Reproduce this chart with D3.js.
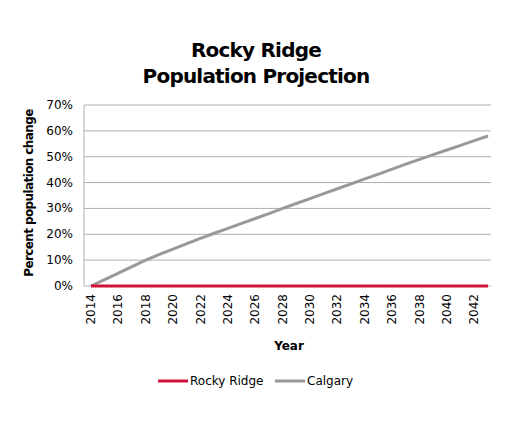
<!DOCTYPE html>
<html><head><meta charset="utf-8">
<script src="https://cdn.jsdelivr.net/npm/d3@7"></script>
<style>body{margin:0;background:#fff}svg{font-family:"DejaVu Sans",sans-serif}</style>
</head><body><div id="chart"></div>
<script>
let years = d3.range(2014, 2044)
let calgary = [0, 2.5, 5, 7.5, 10, 12.2, 14.3, 16.4, 18.4, 20.4, 22.3, 24.2, 26.1, 28.0, 30,
  31.9, 33.8, 35.7, 37.6, 39.5, 41.4, 43.3, 45.2, 47.1, 49, 50.8, 52.6, 54.4, 56.2, 58]
let rockyRidge = years.map(function(){ return 0 })
let yTicks = [0, 10, 20, 30, 40, 50, 60, 70]
let xTicks = d3.range(2014, 2043, 2)

let svg = d3.select('#chart').append('svg').attr('width', 509).attr('height', 425)

svg.append('text').attr('x', 256).attr('y', 57).attr('text-anchor', 'middle')
  .attr('font-size', 20).attr('font-weight', 'bold').attr('letter-spacing', -0.8).text('Rocky Ridge')
svg.append('text').attr('x', 256).attr('y', 83).attr('text-anchor', 'middle')
  .attr('font-size', 20).attr('font-weight', 'bold').attr('letter-spacing', -0.8).text('Population Projection')

let x = d3.scaleLinear().domain([2014, 2043]).range([91, 488])
let y = d3.scaleLinear().domain([0, 70]).range([286, 105])

svg.selectAll('.grid').data(yTicks).enter().append('line')
  .attr('x1', 84).attr('x2', 491).attr('y1', y).attr('y2', y)
  .attr('stroke', '#b0b0b0').attr('stroke-width', 1)
svg.append('line').attr('x1', 84).attr('x2', 84).attr('y1', 105).attr('y2', 286).attr('stroke', '#b0b0b0')

svg.selectAll('.yl').data(yTicks).enter().append('text')
  .attr('x', 73).attr('y', function(d){ return y(d) + 4 }).attr('text-anchor', 'end')
  .attr('font-size', 12).text(function(d){ return d + '%' })

svg.selectAll('.xl').data(xTicks).enter().append('text')
  .attr('transform', function(d){ return 'translate(' + (x(d) + 4) + ',294) rotate(-90)' })
  .attr('text-anchor', 'end').attr('font-size', 12).text(function(d){ return d })

svg.append('text').attr('x', 289).attr('y', 350).attr('text-anchor', 'middle')
  .attr('font-size', 12).attr('font-weight', 'bold').text('Year')
svg.append('text').attr('transform', 'translate(33,193) rotate(-90)').attr('text-anchor', 'middle')
  .attr('font-size', 12).attr('font-weight', 'bold').attr('letter-spacing', -0.6).text('Percent population change')

let line = d3.line().x(function(d, i){ return x(years[i]) }).y(function(d){ return y(d) })
svg.append('path').datum(calgary).attr('d', line).attr('fill', 'none').attr('stroke', '#999').attr('stroke-width', 3)
svg.append('path').datum(rockyRidge).attr('d', line).attr('fill', 'none').attr('stroke', '#d0103a').attr('stroke-width', 3)

let legend = [['Rocky Ridge', '#d0103a', 158], ['Calgary', '#999', 275]]
legend.forEach(function(l){
  svg.append('line').attr('x1', l[2]).attr('x2', l[2] + 30).attr('y1', 381).attr('y2', 381).attr('stroke', l[1]).attr('stroke-width', 3)
  svg.append('text').attr('x', l[2] + 32).attr('y', 385).attr('font-size', 12).text(l[0])
})
</script></body></html>
